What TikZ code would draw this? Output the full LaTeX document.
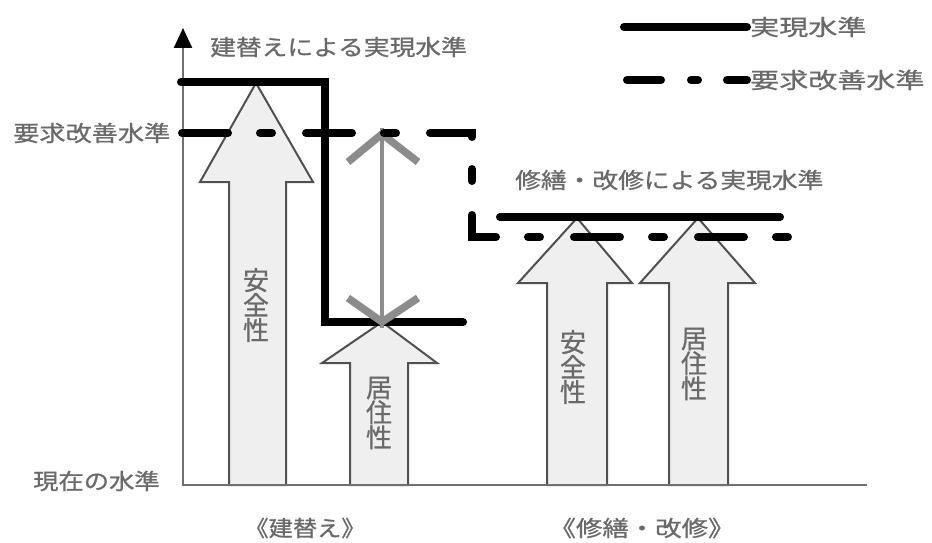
\documentclass[tikz,border=0pt]{standalone}
\usepackage{fontspec}
\newfontfamily\jp[FakeBold=0.8]{Noto Sans CJK JP}
\usetikzlibrary{arrows.meta}
\definecolor{txt}{HTML}{6A6A6A}
\definecolor{axisc}{HTML}{707070}
\definecolor{afill}{HTML}{EFEFEF}
\definecolor{aline}{HTML}{505050}
\definecolor{dblc}{HTML}{8C8C8C}
\newcommand{\jlab}[2][1.17]{\scalebox{#1}[1]{\fontsize{22}{22}\selectfont\jp #2}}
\newcommand{\blockarrow}[7]{%
  \draw[blockarr] (#1,485) -- (#1,#5) -- (#3,#5) -- (#6,#7) -- (#4,#5) -- (#2,#5) -- (#2,485) -- cycle;}
\tikzset{
  lab/.style={inner sep=0pt, text=txt, anchor=west},
  vlab/.style={inner sep=0pt, text=txt, align=center, font=\fontsize{26}{25}\selectfont\jp},
  blockarr/.style={draw=aline, fill=afill, line width=2pt, line join=miter},
  realline/.style={line width=8pt, line cap=round, line join=miter, black},
  reqline/.style={line width=8pt, line cap=round, line join=miter, black},
  axisline/.style={draw=axisc, line width=2.5pt},
  dblshaft/.style={draw=dblc, line width=4pt},
  dblhead/.style={draw=dblc, line width=7.5pt, line join=round},
}
\begin{document}
\begin{tikzpicture}[x=1pt,y=-1pt]
\useasboundingbox[fill=white] (0,0) rectangle (932,543);

% coordinates
\coordinate (o) at (183,485);
\coordinate (ytop) at (183,28);
\coordinate (xend) at (867,485);

% block arrows
\blockarrow{229}{286}{200}{313}{182}{256}{83}
\blockarrow{350}{408}{322}{437}{363}{382}{322}
\blockarrow{547}{607}{518}{632}{283}{577}{218}
\blockarrow{669}{728}{640}{755}{283}{698}{218}

% axes
\draw[axisline] ([xshift=-1.2pt]o) -- (xend);
\draw[axisline, -{Triangle[length=20pt,width=18pt,color=black]}] (o) -- (ytop);

% realised levels
\coordinate (r1a) at (181,82);
\coordinate (r1b) at (325,82);
\coordinate (r1c) at (325,322);
\coordinate (r1d) at (463,322);
\draw[realline] (r1a) -- (r1b) -- (r1c) -- (r1d);
\coordinate (r2a) at (500,217);
\coordinate (r2b) at (780,217);
\draw[realline] (r2a) -- (r2b);

% gray double arrow
\coordinate (dtop) at (382,134);
\coordinate (dbot) at (382,322);
\draw[dblshaft] ([yshift=6pt]dtop) -- ([yshift=-6pt]dbot);
\draw[dblhead] (348,162) -- (dtop) -- (418,162);
\draw[dblhead] (348,298) -- (dbot) -- (418,298);

% required level (dashed)
\coordinate (q1) at (182,133);
\coordinate (q2) at (472,133);
\coordinate (q3) at (472,237);
\coordinate (q4) at (790,237);
\draw[reqline, dash pattern=on 46pt off 32pt on 12pt off 34pt] (q1) -- (q2) -- (q3) -- (q4);

% labels
\node[lab] (lreal) at (210,47) {\jlab{建替えによる実現水準}};
\node[lab] (lreq) at (13,133) {\jlab[1.19]{要求改善水準}};
\node[lab] (lrep) at (515,180) {\jlab{修繕・改修による実現水準}};
\node[lab] (lnow) at (33,481) {\jlab[1.15]{現在の水準}};
\node[inner sep=0pt, text=txt] (lrb) at (305,528) {\jlab[1.1]{《建替え》}};
\node[inner sep=0pt, text=txt] (lrm) at (642,528) {\jlab[1.2]{《修繕・改修》}};

% vertical labels in arrows
\node[vlab] (s1) at (256,305) {安\\全\\性};
\node[vlab] (k1) at (379,413) {居\\住\\性};
\node[vlab] (s2) at (573,367) {安\\全\\性};
\node[vlab] (k2) at (694,364) {居\\住\\性};

% legend
\node[lab] (leg1) at (750,27) {\jlab[1.32]{実現水準}};
\node[lab] (leg2) at (750,80) {\jlab[1.32]{要求改善水準}};
\coordinate (g1) at (624,27);
\coordinate (g2) at (627,80);
\draw[realline] (g1) -- ([xshift=-3pt]leg1.west);
\draw[reqline, dash pattern=on 34pt off 30pt on 7pt off 29pt on 200pt off 10pt] (g2) -- ([xshift=-3pt]leg2.west);
\end{tikzpicture}
\end{document}
